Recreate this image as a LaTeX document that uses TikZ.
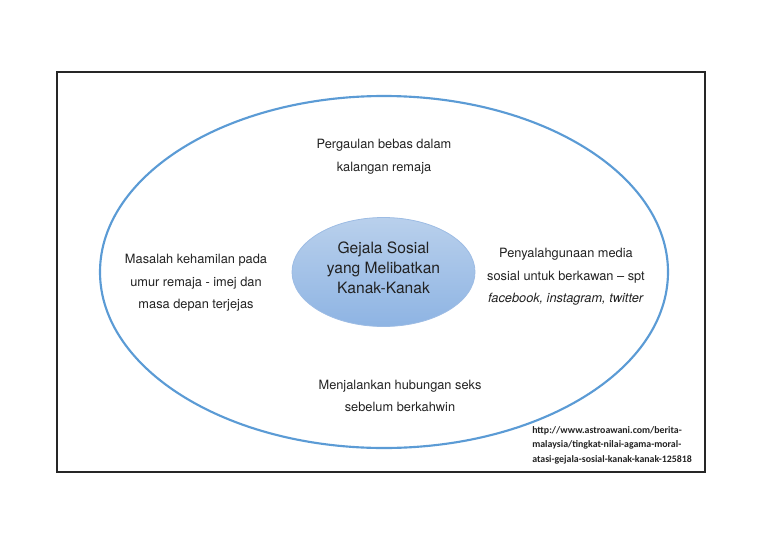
\documentclass[tikz,border=0pt]{standalone}
\usepackage{fontspec}
\setmainfont{TeX Gyre Heros}
\newfontfamily\urlfont{Carlito}
\usetikzlibrary{shapes.geometric}
\definecolor{ringblue}{HTML}{5B9BD5}
\definecolor{topblue}{HTML}{B9D0EC}
\definecolor{botblue}{HTML}{8EB4E3}
\definecolor{edgeblue}{HTML}{9DBCE4}
\definecolor{txt}{HTML}{222222}
\tikzset{
  lbl/.style={align=center, text=txt, font=\fontsize{9.6}{17}\selectfont, inner sep=0pt},
  ctr/.style={align=center, text=txt, font=\fontsize{11.7}{15}\selectfont, inner sep=0pt},
  src/.style={align=left, anchor=north west, text=txt, font=\urlfont\bfseries\fontsize{7.4}{10.9}\selectfont, inner sep=0pt}
}
\begin{document}
\begin{tikzpicture}[x=0.75pt,y=-0.75pt]
\useasboundingbox (0,0) rectangle (768,543);
\draw[line width=0.9pt, black!85] (57,72) rectangle (705,472);
\draw[ringblue, line width=1.6pt] (384,272) ellipse [x radius=284, y radius=176];
\shade[top color=topblue, bottom color=botblue] (383.5,272) ellipse [x radius=91.5, y radius=54.5];
\draw[edgeblue, line width=0.6pt] (383.5,272) ellipse [x radius=91.5, y radius=54.5];
\node[ctr] (center) at (383.5,267.5) {Gejala Sosial\\yang Melibatkan\\Kanak-Kanak};
\node[lbl] (top) at (384,157) {Pergaulan bebas dalam\\kalangan remaja};
\node[lbl] (left) at (196,283) {Masalah kehamilan pada\\umur remaja - imej dan\\masa depan terjejas};
\node[lbl] (right) at (566,277) {Penyalahgunaan media\\sosial untuk berkawan -- spt\\\textit{facebook, instagram, twitter}};
\node[lbl] (bottom) at (400,396) {Menjalankan hubungan seks\\sebelum berkahwin};
\node[src] (source) at (532,426) {http://www.astroawani.com/berita-\\malaysia/tingkat-nilai-agama-moral-\\atasi-gejala-sosial-kanak-kanak-125818};
\end{tikzpicture}
\end{document}
